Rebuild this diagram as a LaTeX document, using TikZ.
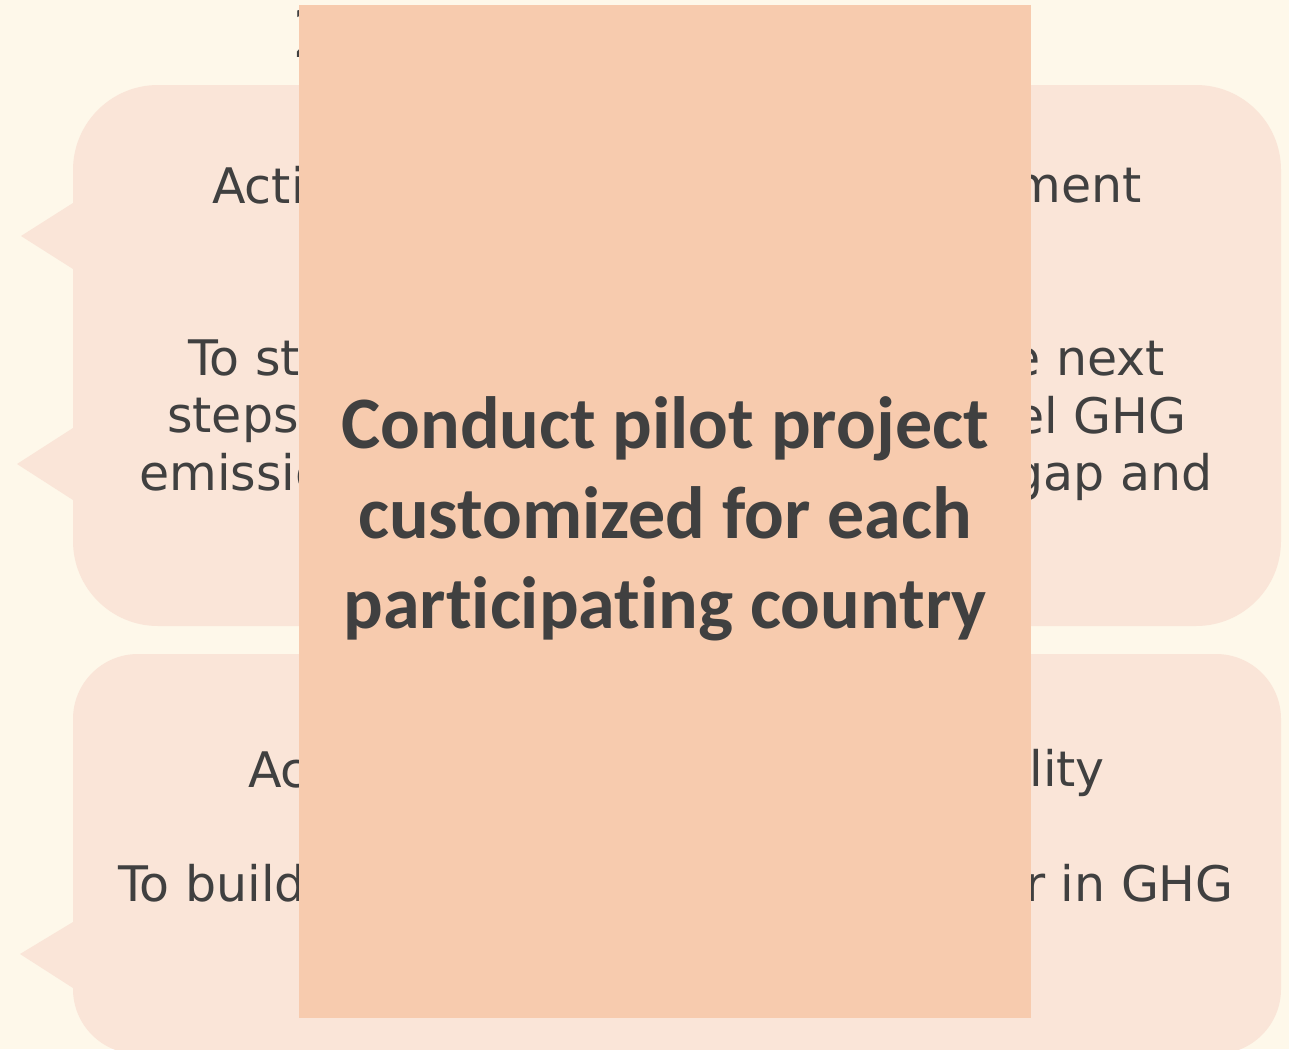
\documentclass[tikz,border=0pt]{standalone}
\usepackage{fontspec}
\setmainfont{DejaVu Sans}
\newfontfamily\calfont[Ligatures=NoCommon]{Carlito}
\usetikzlibrary{positioning}

\definecolor{paper}{HTML}{FEF8EA}
\definecolor{bubblefill}{HTML}{FAE5D8}
\definecolor{pilotfill}{HTML}{F7CBAE}
\definecolor{ink}{HTML}{404040}

\tikzset{
  bubble/.style={fill=bubblefill},
  frag/.style={inner sep=0pt, text=ink, font=\fontsize{49}{57}\selectfont},
  pilotbox/.style={fill=pilotfill, inner sep=0pt, minimum width=732pt, minimum height=1013pt},
}

\begin{document}
\begin{tikzpicture}[x=1pt,y=-1pt]
\fill[paper] (0,0) rectangle (1289,1049);
\clip (0,0) rectangle (1289,1049);
% title, mostly hidden
\node[frag, anchor=base west, font=\fontsize{67}{80}\selectfont] (title) at (292,57) {2};
% upper bubble
\fill[bubble, rounded corners=85pt] (73,85) rectangle (1281,626);
\fill[bubble] (73,203) -- (21,236) -- (73,269) -- cycle;
\fill[bubble] (73,428) -- (17,464) -- (73,500) -- cycle;
\node[frag, anchor=base west] (actA) at (212,203) {Acti};
\node[frag, anchor=base east] (actB) at (1142,202) {ment};
\node[frag, anchor=base west] (aimA) at (188,375) {To st};
\node[frag, anchor=base east] (aimB) at (1165,375) {e next};
\node[frag, anchor=base west] (aimC) at (167,432) {steps};
\node[frag, anchor=base east] (aimD) at (1187,433) {el GHG};
\node[frag, anchor=base west] (aimE) at (139,490) {emission};
\node[frag, anchor=base east] (aimF) at (1213,490) {gap and};
% lower bubble
\fill[bubble, rounded corners=65pt] (73,654) rectangle (1281,1054);
\fill[bubble] (73,922) -- (20,954) -- (73,988) -- cycle;
\node[frag, anchor=base west] (capA) at (248,787) {Ac};
\node[frag, anchor=base east] (capB) at (1105,786) {bility};
\node[frag, anchor=base west] (capC) at (118,901) {To build};
\node[frag, anchor=base east] (capD) at (1234,901) {r in GHG};
% pilot project
\node[pilotbox] (pilot) at (665,511.5) {};
\node[text=ink, align=center, inner sep=0pt,
      font=\calfont\bfseries\fontsize{74}{90}\selectfont] (pilottext) at (665,519)
  {Conduct pilot project\\customized for each\\participating country};
\end{tikzpicture}
\end{document}
